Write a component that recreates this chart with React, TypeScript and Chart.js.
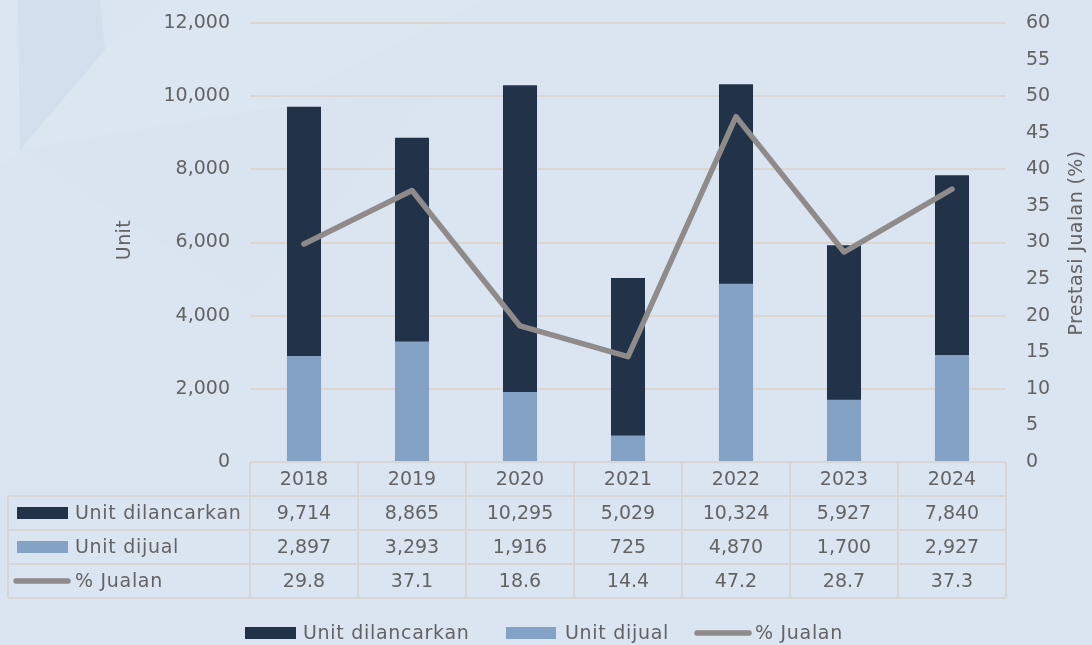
import React, { useEffect, useRef } from 'react';
import { Chart, registerables } from 'chart.js';

Chart.register(...registerables);

// ---------- data ----------
const years = ['2018', '2019', '2020', '2021', '2022', '2023', '2024'];
const unitDilancarkan = [9714, 8865, 10295, 5029, 10324, 5927, 7840];
const unitDijual = [2897, 3293, 1916, 725, 4870, 1700, 2927];
const peratusJualan = [29.8, 37.1, 18.6, 14.4, 47.2, 28.7, 37.3];
const seriesNames = ['Unit dilancarkan', 'Unit dijual', '% Jualan'];
const leftAxis = { min: 0, max: 12000, step: 2000, title: 'Unit' };
const rightAxis = { min: 0, max: 60, step: 5, title: 'Prestasi Jualan (%)' };

// ---------- styles ----------
const FONT = '"DejaVu Sans", sans-serif';
const TEXT = '#636363';
const BG = '#dbe5f1';
const DARK = '#223249';
const LIGHT = '#84a1c6';
const LINE = '#8e8b8a';
const GRID = '#dcd6d0';
const TABLE_LINE = '#d6d6d6';

const fmtInt = (v: number) => v.toLocaleString('en-US');
const fmtPct = (v: number) => v.toFixed(1);

const decoPlugin = {
  id: 'deco',
  beforeDraw(chart: any) {
    const ctx = chart.ctx;
    ctx.save();
    ctx.fillStyle = BG;
    ctx.fillRect(0, 0, chart.width, chart.height);
    const poly = (pts: number[][], fill: string) => {
      ctx.beginPath();
      ctx.moveTo(pts[0][0], pts[0][1]);
      for (let i = 1; i < pts.length; i++) ctx.lineTo(pts[i][0], pts[i][1]);
      ctx.closePath();
      ctx.fillStyle = fill;
      ctx.fill();
    };
    poly([[0, 0], [18, 0], [20, 150], [0, 165]], 'rgba(255,255,255,0.05)');
    poly([[18, 0], [100, 0], [105, 50], [20, 150]], 'rgba(160,185,215,0.12)');
    poly([[20, 150], [105, 50], [170, 0], [480, 0], [260, 110]], 'rgba(255,255,255,0.05)');
    poly([[20, 150], [260, 110], [430, 95], [250, 300]], 'rgba(170,192,218,0.04)');
    ctx.restore();
  },
};

const tablePlugin = {
  id: 'dataTable',
  afterDraw(chart: any) {
    const ctx = chart.ctx;
    const x = chart.scales.x;
    const n = years.length;
    const colW = (x.right - x.left) / n;
    const top = chart.chartArea.bottom;
    const rowH = 34;
    const tableLeft = 8;
    const bottom = top + rowH * 4;
    ctx.save();
    ctx.strokeStyle = TABLE_LINE;
    ctx.lineWidth = 2;
    ctx.beginPath();
    ctx.moveTo(x.left, top);
    ctx.lineTo(x.right, top);
    for (let r = 1; r <= 4; r++) {
      ctx.moveTo(tableLeft, top + r * rowH);
      ctx.lineTo(x.right, top + r * rowH);
    }
    ctx.moveTo(tableLeft, top + rowH);
    ctx.lineTo(tableLeft, bottom);
    for (let c = 0; c <= n; c++) {
      const cx = x.left + c * colW;
      ctx.moveTo(cx, top);
      ctx.lineTo(cx, bottom);
    }
    ctx.stroke();

    ctx.fillStyle = TEXT;
    ctx.font = `19px ${FONT}`;
    ctx.textAlign = 'center';
    ctx.textBaseline = 'middle';
    years.forEach((y, i) => {
      ctx.fillText(y, x.getPixelForValue(i), top + rowH / 2 + 1);
    });
    const rows = [
      unitDilancarkan.map(fmtInt),
      unitDijual.map(fmtInt),
      peratusJualan.map(fmtPct),
    ];
    rows.forEach((vals, r) => {
      const cy = top + rowH * (r + 1) + rowH / 2 + 1;
      vals.forEach((v, i) => {
        ctx.fillStyle = TEXT;
        ctx.textAlign = 'center';
        ctx.fillText(v, x.getPixelForValue(i), cy);
      });
    });

    const drawKey = (kind: number, x0: number, x1: number, cy: number) => {
      if (kind === 2) {
        ctx.strokeStyle = LINE;
        ctx.lineWidth = 5.5;
        ctx.lineCap = 'round';
        ctx.beginPath();
        ctx.moveTo(x0 + 3, cy);
        ctx.lineTo(x1 - 3, cy);
        ctx.stroke();
      } else {
        ctx.fillStyle = kind === 0 ? DARK : LIGHT;
        ctx.fillRect(x0, cy - 6, x1 - x0, 12);
      }
    };
    (ctx as any).letterSpacing = '0.7px';
    seriesNames.forEach((name, r) => {
      const cy = top + rowH * (r + 1) + rowH / 2;
      if (r === 2) drawKey(2, 13, 71, cy);
      else drawKey(r, 17, 68, cy);
      ctx.fillStyle = TEXT;
      ctx.textAlign = 'left';
      ctx.fillText(name, 75, cy + 1);
    });

    const ly = 633;
    const legendItems = [
      { k: 0, x0: 245, x1: 296, tx: 303 },
      { k: 1, x0: 506, x1: 556, tx: 565 },
      { k: 2, x0: 694, x1: 752, tx: 755 },
    ];
    legendItems.forEach((it) => {
      drawKey(it.k, it.x0, it.x1, ly);
      ctx.fillStyle = TEXT;
      ctx.textAlign = 'left';
      ctx.fillText(seriesNames[it.k], it.tx, ly + 1);
    });

    ctx.fillStyle = TEXT;
    ctx.textAlign = 'center';
    ctx.font = `19px ${FONT}`;
    (ctx as any).letterSpacing = '0.4px';
    ctx.save();
    ctx.translate(125, 240);
    ctx.rotate(-Math.PI / 2);
    ctx.fillText(leftAxis.title, 0, 0);
    ctx.restore();
    ctx.save();
    ctx.translate(1077, 243);
    ctx.rotate(-Math.PI / 2);
    ctx.fillText(rightAxis.title, 0, 0);
    ctx.restore();
    ctx.restore();
  },
};

export default function App() {
  const ref = useRef<HTMLCanvasElement | null>(null);

  useEffect(() => {
    document.body.style.margin = '0';
    document.body.style.background = BG;
    const canvas = ref.current;
    if (!canvas) return;
    const chart = new Chart(canvas, {
      data: {
        labels: years,
        datasets: [
          {
            type: 'line',
            label: seriesNames[2],
            data: peratusJualan,
            yAxisID: 'y1',
            borderColor: LINE,
            backgroundColor: LINE,
            borderWidth: 5.5,
            pointRadius: 0,
            tension: 0,
            borderCapStyle: 'round',
            borderJoinStyle: 'round',
            order: 0,
          },
          {
            type: 'bar',
            label: seriesNames[1],
            data: unitDijual,
            yAxisID: 'y',
            backgroundColor: LIGHT,
            grouped: false,
            categoryPercentage: 1,
            barPercentage: 0.315,
            order: 1,
          },
          {
            type: 'bar',
            label: seriesNames[0],
            data: unitDilancarkan,
            yAxisID: 'y',
            backgroundColor: DARK,
            grouped: false,
            categoryPercentage: 1,
            barPercentage: 0.315,
            order: 2,
          },
        ],
      } as any,
      options: {
        responsive: false,
        animation: false,
        layout: { padding: { top: 23, bottom: 183, left: 0, right: 0 } },
        plugins: {
          legend: { display: false },
          tooltip: { enabled: false },
          title: { display: false },
        },
        scales: {
          x: {
            type: 'category',
            display: false,
            offset: true,
          },
          y: {
            position: 'left',
            min: leftAxis.min,
            max: leftAxis.max,
            ticks: {
              stepSize: leftAxis.step,
              color: TEXT,
              font: { family: FONT, size: 19 },
              padding: 0,
              callback: (v: any) => fmtInt(Number(v)),
            },
            grid: {
              color: GRID,
              lineWidth: 2,
              drawTicks: true,
              tickLength: 20,
              tickColor: 'rgba(0,0,0,0)',
            },
            border: { display: false },
            afterFit: (s: any) => {
              s.width = 250;
            },
          },
          y1: {
            position: 'right',
            min: rightAxis.min,
            max: rightAxis.max,
            ticks: {
              stepSize: rightAxis.step,
              color: TEXT,
              font: { family: FONT, size: 19 },
              padding: 0,
            },
            grid: {
              drawOnChartArea: false,
              drawTicks: true,
              tickLength: 20,
              tickColor: 'rgba(0,0,0,0)',
              color: 'rgba(0,0,0,0)',
            },
            border: { display: false },
            afterFit: (s: any) => {
              s.width = 86;
            },
          },
        },
      } as any,
      plugins: [decoPlugin, tablePlugin],
    });
    return () => chart.destroy();
  }, []);

  return (
    <div style={{ width: 1092, height: 645, background: BG }}>
      <canvas ref={ref} width={1092} height={645} style={{ display: 'block' }} />
    </div>
  );
}
